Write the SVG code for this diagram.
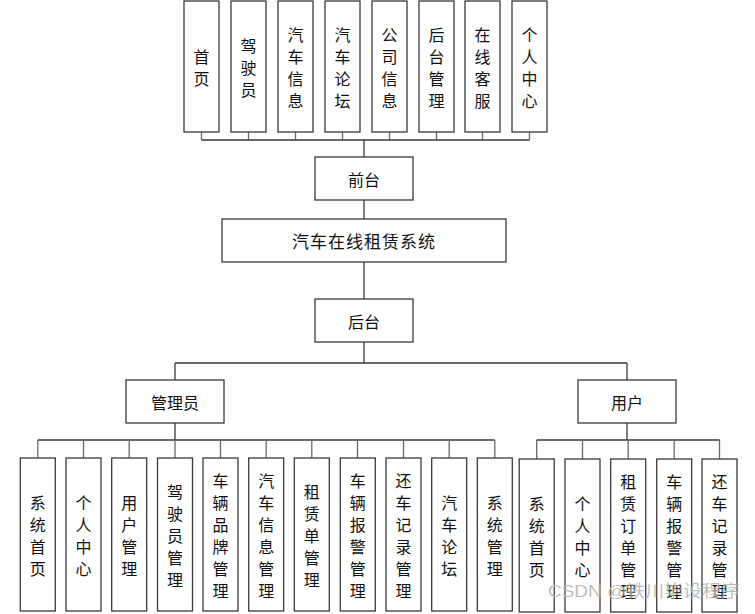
<svg xmlns="http://www.w3.org/2000/svg" width="755" height="614" viewBox="0 0 755 614">
<style>
.box{fill:#fff;stroke:#3a3a3a;stroke-width:1.3}
.t{font-family:"Noto Sans CJK SC","Liberation Sans",sans-serif;font-size:16px;fill:#111;text-anchor:middle;dominant-baseline:central}
.c{fill:none;stroke:#3a3a3a;stroke-width:1.3}
.s{fill:none;stroke:#6a6a6a;stroke-width:1.3}
</style>
<rect width="755" height="614" fill="#fff"/>
<g id="connectors">
<path class="s" d="M201.5 132V140M248.5 132V140M295.5 132V140M342.5 132V140M389.5 132V140M436.5 132V140M482.5 132V140M529.5 132V140"/>
<path class="c" d="M201.5 140H529.5M364 140V157M364 200V219M364 262V299M364 342V363M175 363H627M175 363V380M627 363V380M175 423V440M627 423V440M37.8 440H494.8M536.7 440H719.7"/>
<path class="s" d="M37.8 440V458M83.5 440V458M129.2 440V458M175 440V458M220.5 440V458M266.2 440V458M311.8 440V458M357.5 440V458M403.5 440V458M449.2 440V458M494.8 440V458M536.7 440V459M582.5 440V459M628.2 440V459M674.2 440V459M719.5 440V459"/>
</g>
<g id="top1"><rect class="box" x="184" y="1" width="35" height="131"/><text class="t" x="201.5"><tspan x="201.5" y="55.5">首</tspan><tspan x="201.5" y="77.5">页</tspan></text></g>
<g id="top2"><rect class="box" x="231" y="1" width="35" height="131"/><text class="t"><tspan x="248.5" y="44.5">驾</tspan><tspan x="248.5" y="66.5">驶</tspan><tspan x="248.5" y="88.5">员</tspan></text></g>
<g id="top3"><rect class="box" x="278" y="1" width="35" height="131"/><text class="t"><tspan x="295.5" y="33.5">汽</tspan><tspan x="295.5" y="55.5">车</tspan><tspan x="295.5" y="77.5">信</tspan><tspan x="295.5" y="99.5">息</tspan></text></g>
<g id="top4"><rect class="box" x="325" y="1" width="35" height="131"/><text class="t"><tspan x="342.5" y="33.5">汽</tspan><tspan x="342.5" y="55.5">车</tspan><tspan x="342.5" y="77.5">论</tspan><tspan x="342.5" y="99.5">坛</tspan></text></g>
<g id="top5"><rect class="box" x="372" y="1" width="35" height="131"/><text class="t"><tspan x="389.5" y="33.5">公</tspan><tspan x="389.5" y="55.5">司</tspan><tspan x="389.5" y="77.5">信</tspan><tspan x="389.5" y="99.5">息</tspan></text></g>
<g id="top6"><rect class="box" x="419" y="1" width="35" height="131"/><text class="t"><tspan x="436.5" y="33.5">后</tspan><tspan x="436.5" y="55.5">台</tspan><tspan x="436.5" y="77.5">管</tspan><tspan x="436.5" y="99.5">理</tspan></text></g>
<g id="top7"><rect class="box" x="465" y="1" width="35" height="131"/><text class="t"><tspan x="482.5" y="33.5">在</tspan><tspan x="482.5" y="55.5">线</tspan><tspan x="482.5" y="77.5">客</tspan><tspan x="482.5" y="99.5">服</tspan></text></g>
<g id="top8"><rect class="box" x="512" y="1" width="35" height="131"/><text class="t"><tspan x="529.5" y="33.5">个</tspan><tspan x="529.5" y="55.5">人</tspan><tspan x="529.5" y="77.5">中</tspan><tspan x="529.5" y="99.5">心</tspan></text></g>
<g id="qiantai"><rect class="box" x="315" y="157" width="98" height="43"/><text class="t" x="364" y="178.5">前台</text></g>
<g id="system"><rect class="box" x="222" y="219" width="284" height="43"/><text class="t" x="364" y="240.5" style="font-size:17px;letter-spacing:1px">汽车在线租赁系统</text></g>
<g id="houtai"><rect class="box" x="315" y="299" width="98" height="43"/><text class="t" x="364" y="320.5">后台</text></g>
<g id="admin"><rect class="box" x="126" y="380" width="98" height="43"/><text class="t" x="175" y="401.5">管理员</text></g>
<g id="user"><rect class="box" x="578" y="380" width="98" height="43"/><text class="t" x="627" y="401.5">用户</text></g>
<g id="a1"><rect class="box" x="20.3" y="458" width="35" height="153"/><text class="t"><tspan x="37.8" y="501.5">系</tspan><tspan x="37.8" y="523.5">统</tspan><tspan x="37.8" y="545.5">首</tspan><tspan x="37.8" y="567.5">页</tspan></text></g>
<g id="a2"><rect class="box" x="66" y="458" width="35" height="153"/><text class="t"><tspan x="83.5" y="501.5">个</tspan><tspan x="83.5" y="523.5">人</tspan><tspan x="83.5" y="545.5">中</tspan><tspan x="83.5" y="567.5">心</tspan></text></g>
<g id="a3"><rect class="box" x="111.7" y="458" width="35" height="153"/><text class="t"><tspan x="129.2" y="501.5">用</tspan><tspan x="129.2" y="523.5">户</tspan><tspan x="129.2" y="545.5">管</tspan><tspan x="129.2" y="567.5">理</tspan></text></g>
<g id="a4"><rect class="box" x="157.5" y="458" width="35" height="153"/><text class="t"><tspan x="175" y="490.5">驾</tspan><tspan x="175" y="512.5">驶</tspan><tspan x="175" y="534.5">员</tspan><tspan x="175" y="556.5">管</tspan><tspan x="175" y="578.5">理</tspan></text></g>
<g id="a5"><rect class="box" x="203" y="458" width="35" height="153"/><text class="t"><tspan x="220.5" y="479.5">车</tspan><tspan x="220.5" y="501.5">辆</tspan><tspan x="220.5" y="523.5">品</tspan><tspan x="220.5" y="545.5">牌</tspan><tspan x="220.5" y="567.5">管</tspan><tspan x="220.5" y="589.5">理</tspan></text></g>
<g id="a6"><rect class="box" x="248.7" y="458" width="35" height="153"/><text class="t"><tspan x="266.2" y="479.5">汽</tspan><tspan x="266.2" y="501.5">车</tspan><tspan x="266.2" y="523.5">信</tspan><tspan x="266.2" y="545.5">息</tspan><tspan x="266.2" y="567.5">管</tspan><tspan x="266.2" y="589.5">理</tspan></text></g>
<g id="a7"><rect class="box" x="294.3" y="458" width="35" height="153"/><text class="t"><tspan x="311.8" y="490.5">租</tspan><tspan x="311.8" y="512.5">赁</tspan><tspan x="311.8" y="534.5">单</tspan><tspan x="311.8" y="556.5">管</tspan><tspan x="311.8" y="578.5">理</tspan></text></g>
<g id="a8"><rect class="box" x="340.3" y="458" width="35" height="153"/><text class="t"><tspan x="357.8" y="479.5">车</tspan><tspan x="357.8" y="501.5">辆</tspan><tspan x="357.8" y="523.5">报</tspan><tspan x="357.8" y="545.5">警</tspan><tspan x="357.8" y="567.5">管</tspan><tspan x="357.8" y="589.5">理</tspan></text></g>
<g id="a9"><rect class="box" x="386" y="458" width="35" height="153"/><text class="t"><tspan x="403.5" y="479.5">还</tspan><tspan x="403.5" y="501.5">车</tspan><tspan x="403.5" y="523.5">记</tspan><tspan x="403.5" y="545.5">录</tspan><tspan x="403.5" y="567.5">管</tspan><tspan x="403.5" y="589.5">理</tspan></text></g>
<g id="a10"><rect class="box" x="431.7" y="458" width="35" height="153"/><text class="t"><tspan x="449.2" y="501.5">汽</tspan><tspan x="449.2" y="523.5">车</tspan><tspan x="449.2" y="545.5">论</tspan><tspan x="449.2" y="567.5">坛</tspan></text></g>
<g id="a11"><rect class="box" x="477.3" y="458" width="35" height="153"/><text class="t"><tspan x="494.8" y="501.5">系</tspan><tspan x="494.8" y="523.5">统</tspan><tspan x="494.8" y="545.5">管</tspan><tspan x="494.8" y="567.5">理</tspan></text></g>
<g id="u1"><rect class="box" x="519.2" y="459" width="35" height="153"/><text class="t"><tspan x="536.7" y="502.5">系</tspan><tspan x="536.7" y="524.5">统</tspan><tspan x="536.7" y="546.5">首</tspan><tspan x="536.7" y="568.5">页</tspan></text></g>
<g id="u2"><rect class="box" x="565" y="459" width="35" height="153"/><text class="t"><tspan x="582.5" y="502.5">个</tspan><tspan x="582.5" y="524.5">人</tspan><tspan x="582.5" y="546.5">中</tspan><tspan x="582.5" y="568.5">心</tspan></text></g>
<g id="u3"><rect class="box" x="610.7" y="459" width="35" height="153"/><text class="t"><tspan x="628.2" y="480.5">租</tspan><tspan x="628.2" y="502.5">赁</tspan><tspan x="628.2" y="524.5">订</tspan><tspan x="628.2" y="546.5">单</tspan><tspan x="628.2" y="568.5">管</tspan><tspan x="628.2" y="590.5">理</tspan></text></g>
<g id="u4"><rect class="box" x="656.7" y="459" width="35" height="153"/><text class="t"><tspan x="674.2" y="480.5">车</tspan><tspan x="674.2" y="502.5">辆</tspan><tspan x="674.2" y="524.5">报</tspan><tspan x="674.2" y="546.5">警</tspan><tspan x="674.2" y="568.5">管</tspan><tspan x="674.2" y="590.5">理</tspan></text></g>
<g id="u5"><rect class="box" x="702" y="459" width="35" height="153"/><text class="t"><tspan x="719.5" y="480.5">还</tspan><tspan x="719.5" y="502.5">车</tspan><tspan x="719.5" y="524.5">记</tspan><tspan x="719.5" y="546.5">录</tspan><tspan x="719.5" y="568.5">管</tspan><tspan x="719.5" y="590.5">理</tspan></text></g>
<text x="548" y="597" textLength="192" lengthAdjust="spacingAndGlyphs" style="font-family:'Liberation Sans','Noto Sans CJK SC',sans-serif;font-size:17px;fill:#999;fill-opacity:0.75;stroke:#fff;stroke-width:0.4;stroke-opacity:0.5">CSDN @铁川毕设程序</text>
</svg>
